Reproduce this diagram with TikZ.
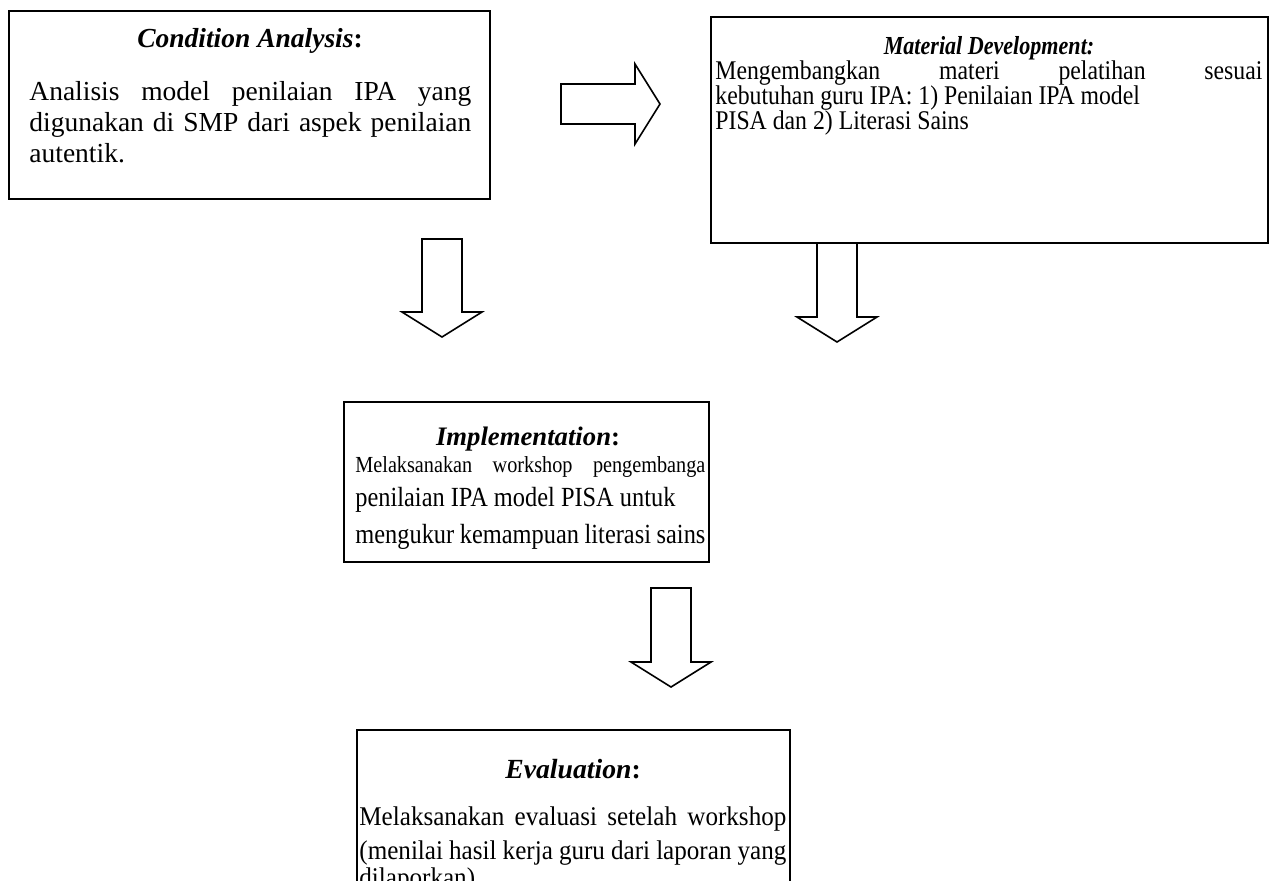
\documentclass[tikz,border=0pt]{standalone}
\usepackage{fontspec}
\setmainfont{Liberation Serif}
\newfontfamily\matA[FakeStretch=0.85]{Liberation Serif}
\newfontfamily\matB[FakeStretch=0.88]{Liberation Serif}
\newfontfamily\implA[FakeStretch=0.88]{Liberation Serif}
\newfontfamily\implB[FakeStretch=0.88]{Liberation Serif}
\newfontfamily\evalB[FakeStretch=0.93]{Liberation Serif}
\newcommand{\fsz}[1]{\fontsize{#1}{#1}\selectfont}
\usetikzlibrary{fit}
\tikzset{
  box/.style={draw, line width=1pt, inner sep=0pt},
  ln/.style={anchor=base west, inner sep=0pt},
  ttl/.style={anchor=base, inner sep=0pt},
  barrow/.style={draw, line width=0.8pt, line join=miter},
  pics/blockarrow/.style={code={
    \draw[barrow] (0,-20) -- (#1-25,-20) -- (#1-25,-40) -- (#1,0) -- (#1-25,40) -- (#1-25,20) -- (0,20) -- cycle;}}
}
\begin{document}
\begin{tikzpicture}[x=0.5pt,y=-0.5pt]
\useasboundingbox (0,0) rectangle (1273,880);
\clip (0,0) rectangle (1273,880);

% Boxes
\node[box, fit={(9,11) (490,199)}] (b1) {};
\node[box, fit={(711,17) (1268,243)}] (b2) {};
\node[box, fit={(344,402) (709,562)}] (b3) {};
\node[box, fit={(357,730) (790,940)}] (b4) {};

% Box 1
\node[ttl, font=\fsz{13.75pt}] (b1t) at (250,47) {\textbf{\textit{Condition Analysis}:}};
\node[ln, font=\fsz{13.75pt}] (b1a) at (29,100) {\makebox[221pt][s]{Analisis model penilaian IPA yang}};
\node[ln, font=\fsz{13.75pt}] (b1b) at (29,131) {\makebox[221pt][s]{digunakan di SMP dari aspek penilaian}};
\node[ln, font=\fsz{13.75pt}] (b1c) at (29,162) {autentik.};

% Box 2
\node[ttl, font=\matA\fsz{13pt}] (b2t) at (989,54) {\textbf{\textit{Material Development:}}};
\node[ln, font=\matB\fsz{13.5pt}] (b2a) at (715,79) {\makebox[273.5pt][s]{Mengembangkan materi pelatihan sesuai}};
\node[ln, font=\matB\fsz{13.5pt}] (b2b) at (715,104) {kebutuhan guru IPA: 1) Penilaian IPA model};
\node[ln, font=\matB\fsz{13.5pt}] (b2c) at (715,129) {PISA dan 2) Literasi Sains};

% Box 3
\node[ttl, font=\fsz{13.35pt}] (b3t) at (528,445) {\textbf{\textit{Implementation}:}};
\node[ln, font=\implA\fsz{11.5pt}] (b3a) at (355,472) {\makebox[175pt][s]{Melaksanakan workshop pengembanga}};
\node[ln, font=\implB\fsz{13.85pt}] (b3b) at (355,506) {penilaian IPA model PISA untuk};
\node[ln, font=\implB\fsz{13.85pt}] (b3c) at (355,543) {\makebox[175pt][s]{mengukur kemampuan literasi sains}};

% Box 4
\node[ttl, font=\fsz{13.85pt}] (b4t) at (573,778) {\textbf{\textit{Evaluation}:}};
\node[ln, font=\evalB\fsz{13.5pt}] (b4a) at (359,825) {\makebox[213.5pt][s]{Melaksanakan evaluasi setelah workshop}};
\node[ln, font=\evalB\fsz{13.5pt}] (b4b) at (359,859) {\makebox[213.5pt][s]{(menilai hasil kerja guru dari laporan yang}};
\node[ln, font=\evalB\fsz{13.5pt}] (b4c) at (359,886) {dilaporkan)};

% Block arrows
\coordinate (a1) at (561,104);
\coordinate (a2) at (442,239);
\coordinate (a3) at (837,243);
\coordinate (a4) at (671,588);
\pic at (a1) {blockarrow=99};
\pic[rotate=-90] at (a2) {blockarrow=98};
\pic[rotate=-90] at (a3) {blockarrow=99};
\pic[rotate=-90] at (a4) {blockarrow=99};
\end{tikzpicture}
\end{document}
